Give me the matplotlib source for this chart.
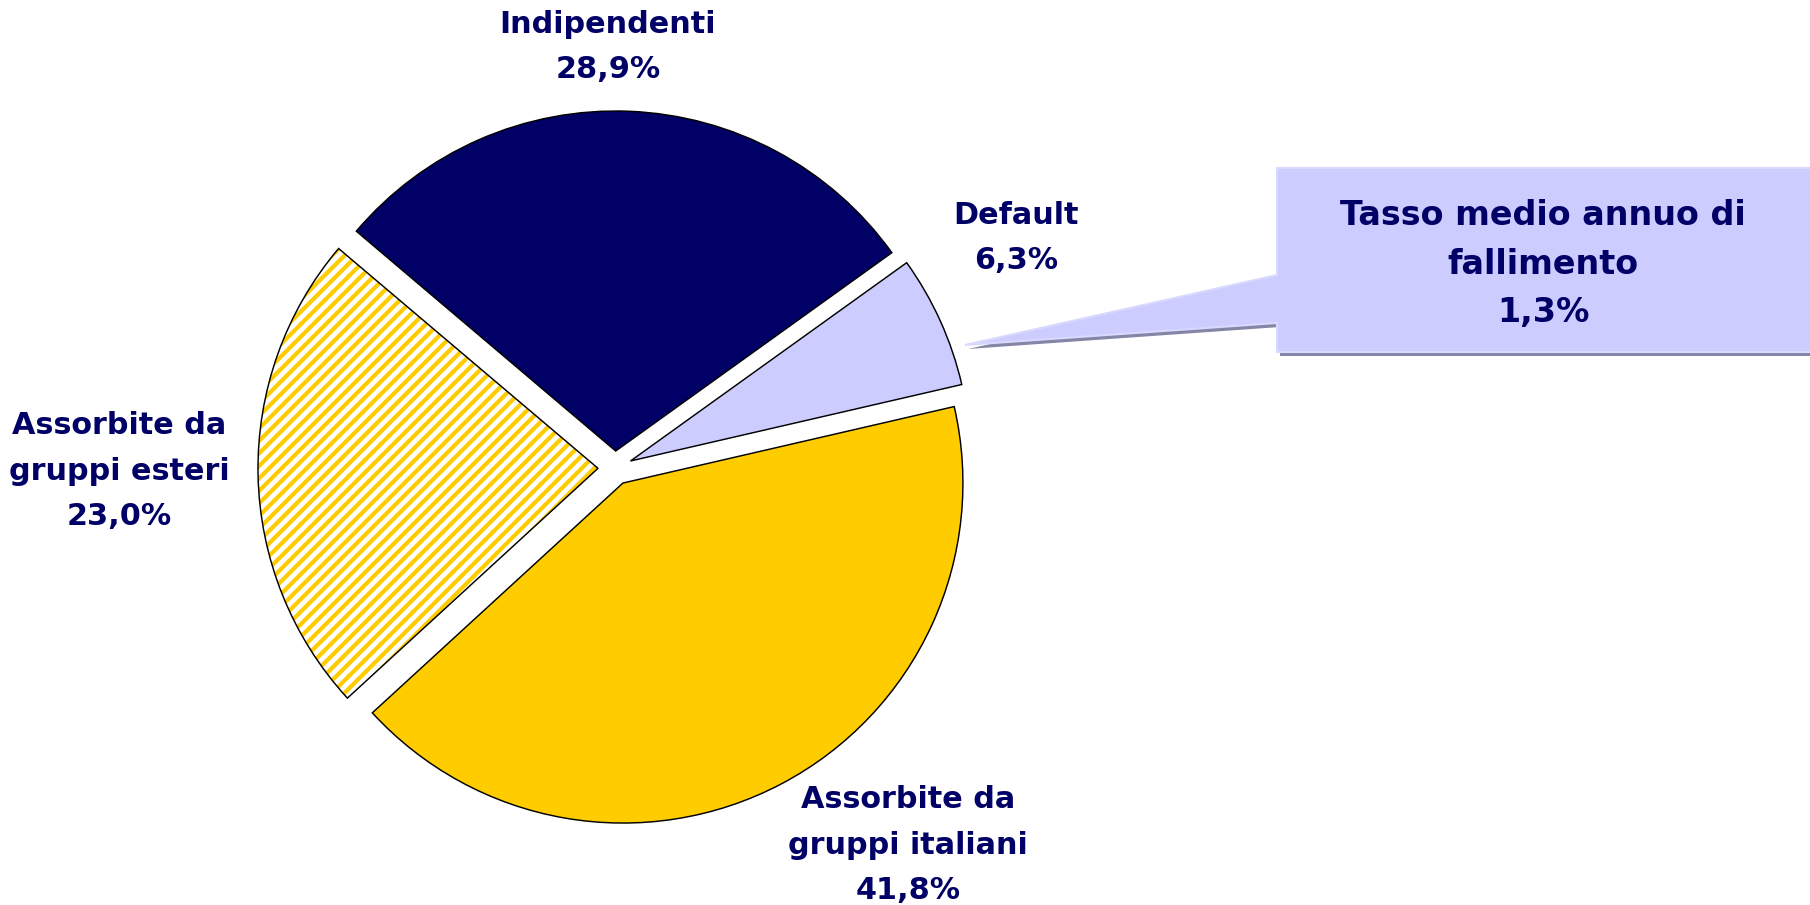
import matplotlib
matplotlib.use("Agg")
import matplotlib.pyplot as plt
import matplotlib.patches as mpatches

# data (counterclockwise from the Default slice)
labels = ["Default", "Indipendenti", "Assorbite da\ngruppi esteri", "Assorbite da\ngruppi italiani"]
values = [6.3, 28.9, 23.0, 41.8]
colors = ["#CCCCFF", "#000066", "#FFFFFF", "#FFCC00"]
callout_text = "Tasso medio annuo di\nfallimento\n1,3%"

W, H = 1810, 905
DPI = 150
NAVY = "#000066"
GOLD = "#FFCC00"

plt.rcParams["hatch.linewidth"] = 2.0

fig = plt.figure(figsize=(W / DPI, H / DPI), dpi=DPI)
ax = fig.add_axes([0, 0, 1, 1])

wedges, _ = ax.pie(values, colors=colors, startangle=13, counterclock=True,
                   center=(615, H - 468), radius=340, explode=[17] * 4,
                   wedgeprops=dict(edgecolor="black", linewidth=0.7))

# striped slice (esteri)
w = wedges[2]
w.set_facecolor("white")
w.set_edgecolor(GOLD)
w.set_linewidth(0)
w.set_hatch("////")
ax.add_patch(mpatches.Wedge(w.center, w.r, w.theta1, w.theta2, fill=False,
                            edgecolor="black", linewidth=0.7, zorder=w.get_zorder() + 0.1))

ax.set_xlim(0, W)
ax.set_ylim(0, H)
ax.set_aspect("equal")
ax.axis("off")


def px(x, y):
    return x, H - y


txt = dict(color=NAVY, fontsize=14.5, fontweight="bold", ha="center", va="center",
           linespacing=1.72, family="DejaVu Sans")

label_pos = [(1016, 238), (608, 47), (119, 471), (908, 845)]
for lab, v, (x, y) in zip(labels, values, label_pos):
    ax.text(*px(x, y), lab + "\n" + f"{v:.1f}%".replace(".", ","), **txt)

# callout box with pointer
shape = [(1277, 168), (1830, 168), (1830, 352), (1277, 352), (1277, 323), (965, 345), (1277, 275)]
shadow = mpatches.Polygon([px(x + 3, y + 4) for x, y in shape], closed=True,
                          facecolor="#8585A5", edgecolor="none", zorder=5)
box = mpatches.Polygon([px(x, y) for x, y in shape], closed=True,
                       facecolor="#CCCCFF", edgecolor="#D9D9FF", linewidth=1, zorder=6)
ax.add_patch(shadow)
ax.add_patch(box)
callout = dict(txt, fontsize=16, linespacing=1.6)
ax.text(*px(1543, 264), callout_text, zorder=7, **callout)

fig.savefig("out.png", dpi=DPI)
